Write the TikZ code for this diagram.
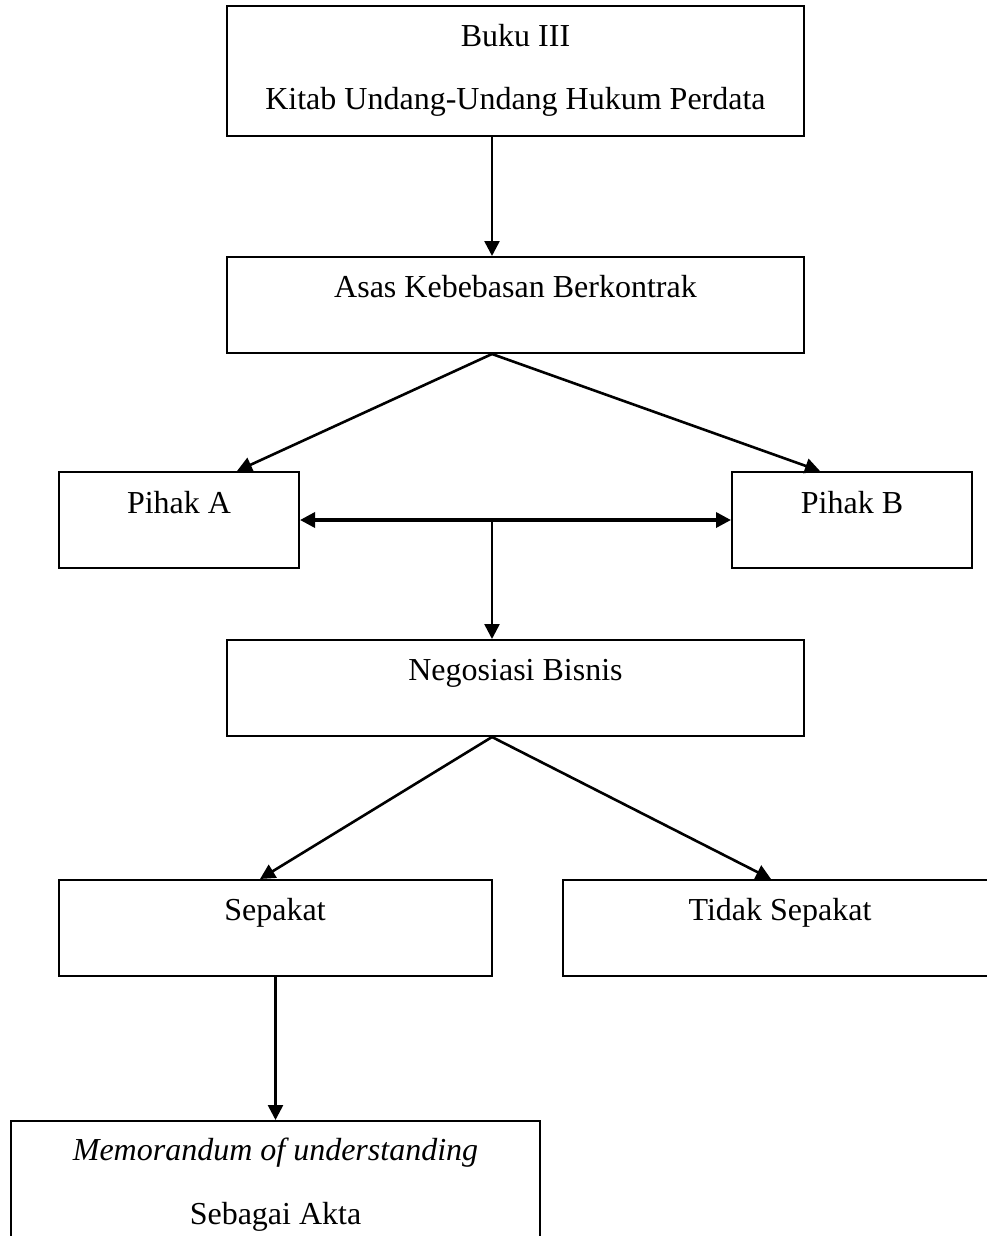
\documentclass[tikz,border=0pt]{standalone}
\usepackage{fontspec}
\setmainfont{Liberation Serif}
\usetikzlibrary{arrows.meta}
\begin{document}
\begin{tikzpicture}[x=1pt,y=-1pt,
  box/.style={draw=black,line width=2pt,rectangle,inner sep=0pt,fill=white},
  lbl/.style={anchor=base,inner sep=0pt,font=\fontsize{32}{38}\selectfont},
  conn/.style={line width=2.6pt,-{Triangle[length=15pt,width=15pt]}},
  dbl/.style={line width=3.4pt,{Triangle[length=15pt,width=15pt]}-{Triangle[length=15pt,width=15pt]}}]
\useasboundingbox (0,0) rectangle (987,1236);
\clip (0,0) rectangle (987,1236);
\fill[white] (0,0) rectangle (987,1236);
% boxes
\node[box,minimum width=577pt,minimum height=130pt] (top) at (515.5,71) {};
\node[box,minimum width=577pt,minimum height=96pt] (asas) at (515.5,305) {};
\node[box,minimum width=240pt,minimum height=96pt] (pa) at (179,520) {};
\node[box,minimum width=240pt,minimum height=96pt] (pb) at (852,520) {};
\node[box,minimum width=577pt,minimum height=96pt] (neg) at (515.5,688) {};
\node[box,minimum width=433pt,minimum height=96pt] (sep) at (275.5,928) {};
\node[box,minimum width=434pt,minimum height=96pt] (tid) at (780,928) {};
\node[box,minimum width=529pt,minimum height=140pt] (mou) at (275.5,1191) {};
% texts
\node[lbl] (t1) at (515.5,47) {Buku III};
\node[lbl] (t2) at (515.5,110) {Kitab Undang-Undang Hukum Perdata};
\node[lbl] (t3) at (515.5,297) {Asas Kebebasan Berkontrak};
\node[lbl] (t4) at (179,513) {Pihak A};
\node[lbl] (t5) at (852,513) {Pihak B};
\node[lbl] (t6) at (515.5,680) {Negosiasi Bisnis};
\node[lbl] (t7) at (275,920) {Sepakat};
\node[lbl] (t8) at (780,920) {Tidak Sepakat};
\node[lbl] (t9) at (275.5,1160) {\itshape Memorandum of understanding};
\node[lbl] (t10) at (275.5,1224) {Sebagai Akta};
% connectors
\draw[conn] ([xshift=-23.5pt]top.south) -- ([xshift=-23.5pt]asas.north);
\draw[conn] ([xshift=-23.5pt]asas.south) -- ([xshift=58pt]pa.north);
\draw[conn] ([xshift=-23.5pt]asas.south) -- ([xshift=-32pt]pb.north);
\draw[dbl] (pa.east) -- (pb.west);
\coordinate (mid) at ([xshift=-23.5pt]neg.north |- pa.east);
\draw[conn] (mid) -- ([xshift=-23.5pt]neg.north);
\draw[conn] ([xshift=-23.5pt]neg.south) -- ([xshift=-15.5pt]sep.north);
\draw[conn] ([xshift=-23.5pt]neg.south) -- ([xshift=-9pt]tid.north);
\draw[conn] (sep.south) -- (mou.north);
\end{tikzpicture}
\end{document}
